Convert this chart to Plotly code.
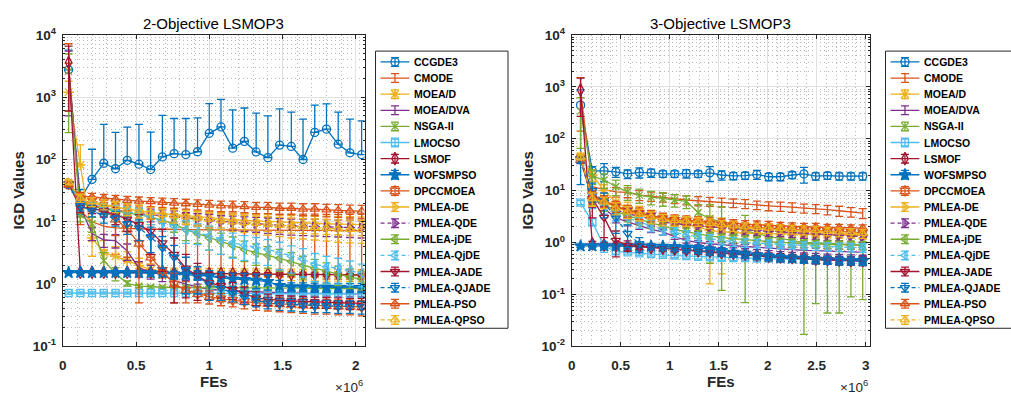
import plotly.graph_objects as go

# ---------------------------------------------------------------- data
ALGORITHMS = ["CCGDE3", "CMODE", "MOEA/D", "MOEA/DVA", "NSGA-II", "LMOCSO", "LSMOF",
              "WOFSMPSO", "DPCCMOEA", "PMLEA-DE", "PMLEA-QDE", "PMLEA-jDE", "PMLEA-QjDE",
              "PMLEA-JADE", "PMLEA-QJADE", "PMLEA-PSO", "PMLEA-QPSO"]

# function evaluations at which IGD was recorded
fes_2obj = [40000, 120000, 200000, 280000, 360000, 440000, 520000, 600000, 680000, 760000,
            840000, 920000, 1000000, 1080000, 1160000, 1240000, 1320000, 1400000, 1480000,
            1560000, 1640000, 1720000, 1800000, 1880000, 1960000, 2040000]
fes_3obj = [90000, 210000, 330000, 450000, 570000, 690000, 810000, 930000, 1050000, 1170000,
            1290000, 1410000, 1530000, 1650000, 1770000, 1890000, 2010000, 2130000, 2250000,
            2370000, 2490000, 2610000, 2730000, 2850000, 2970000]

# ---- 2-objective LSMOP3: mean IGD and standard deviation
igd2_ccgde3 = [2750, 23, 48, 87, 71, 97, 84, 69, 110, 124, 120, 133, 263, 333, 152, 195, 132, 107, 170, 162, 100, 272, 307, 176, 128, 120]
std2_ccgde3 = [2950, 10, 98, 278, 201, 233, 281, 206, 400, 331, 335, 332, 527, 587, 473, 475, 423, 393, 480, 413, 345, 473, 473, 399, 317, 295]
igd2_cmode = [3500, 15, 10, 8.5, 8.0, 7.8, 7.7, 7.6, 7.6, 7.5, 7.5, 7.5, 7.4, 7.4, 7.4, 7.4, 7.3, 7.3, 7.3, 7.3, 7.3, 7.3, 7.2, 7.2, 7.2, 7.2]
std2_cmode = [3700, 6, 5, 5, 5, 5.5, 5.5, 5.5, 6, 6, 6, 6, 6, 6, 6, 6, 6, 6, 6, 6, 6, 6, 6, 6, 6, 6]
igd2_moead = [1200, 82, 5.5, 3.2, 2.8, 2.4, 2.0, 1.7, 1.55, 1.5, 1.5, 1.5, 1.48, 1.48, 1.47, 1.46, 1.45, 1.45, 1.44, 1.44, 1.43, 1.43, 1.42, 1.42, 1.41, 1.4]
std2_moead = [600, 90, 2.7, 1.8, 1.2, 0.9, 0.6, 0.4, 0.3, 0.3, 0.3, 0.3, 0.3, 0.3, 0.3, 0.3, 0.3, 0.3, 0.3, 0.3, 0.3, 0.3, 0.3, 0.3, 0.3, 0.3]
igd2_moeadva = [3000, 17, 6.5, 5.1, 5.0, 3.4, 1.8, 1.6, 1.4, 1.15, 1.0, 0.9, 0.82, 0.8, 0.78, 0.76, 0.75, 0.74, 0.73, 0.72, 0.72, 0.71, 0.71, 0.7, 0.7, 0.7]
std2_moeadva = [2500, 5, 1.5, 1.2, 1.2, 1.0, 0.5, 0.4, 0.3, 0.2, 0.15, 0.1, 0.08, 0.08, 0.07, 0.07, 0.07, 0.07, 0.07, 0.07, 0.07, 0.07, 0.07, 0.07, 0.07, 0.07]
igd2_nsga2 = [2600, 13, 9.3, 2.4, 1.48, 1.03, 0.93, 0.9, 0.89, 0.88, 0.88, 0.87, 0.87, 0.87, 0.87, 0.86, 0.86, 0.86, 0.86, 0.86, 0.86, 0.85, 0.85, 0.85, 0.85, 0.85]
std2_nsga2 = [2330, 3, 2.5, 0.8, 0.35, 0.1, 0.05, 0.04, 0.04, 0.04, 0.04, 0.04, 0.04, 0.04, 0.04, 0.04, 0.04, 0.04, 0.04, 0.04, 0.04, 0.04, 0.04, 0.04, 0.04, 0.04]
igd2_lmocso = [0.72, 0.72, 0.72, 0.72, 0.72, 0.72, 0.72, 0.72, 0.72, 0.72, 0.72, 0.71, 0.71, 0.71, 0.71, 0.71, 0.71, 0.70, 0.70, 0.70, 0.70, 0.70, 0.70, 0.70, 0.70, 0.70]
std2_lmocso = [0.03, 0.03, 0.03, 0.03, 0.03, 0.03, 0.03, 0.03, 0.03, 0.03, 0.03, 0.03, 0.03, 0.03, 0.03, 0.03, 0.03, 0.03, 0.03, 0.03, 0.03, 0.03, 0.03, 0.03, 0.03, 0.03]
igd2_lsmof = [3600, 1.55, 1.55, 1.55, 1.55, 1.55, 1.55, 1.55, 1.55, 1.52, 1.5, 1.5, 1.48, 1.47, 1.46, 1.46, 1.45, 1.45, 1.44, 1.44, 1.43, 1.43, 1.42, 1.42, 1.41, 1.4]
std2_lsmof = [3000, 0.08, 0.08, 0.08, 0.08, 0.08, 0.08, 0.08, 0.08, 0.08, 0.08, 0.08, 0.08, 0.08, 0.08, 0.08, 0.08, 0.08, 0.08, 0.08, 0.08, 0.08, 0.08, 0.08, 0.08, 0.08]
igd2_wofsmpso = [1.53, 1.53, 1.53, 1.53, 1.53, 1.53, 1.53, 1.52, 1.5, 1.45, 1.42, 1.4, 1.35, 1.25, 1.2, 1.18, 1.15, 1.1, 0.95, 0.9, 0.9, 0.89, 0.89, 0.88, 0.88, 0.88]
std2_wofsmpso = [0.05, 0.05, 0.05, 0.05, 0.05, 0.05, 0.05, 0.05, 0.1, 0.15, 0.2, 0.25, 0.3, 0.3, 0.3, 0.3, 0.3, 0.3, 0.2, 0.15, 0.15, 0.15, 0.15, 0.15, 0.15, 0.15]
igd2_dpccmoea = [40, 22, 19, 16, 11, 7.7, 4.5, 2.7, 1.66, 1.0, 0.8, 0.7, 0.63, 0.58, 0.55, 0.52, 0.5, 0.49, 0.48, 0.47, 0.46, 0.45, 0.45, 0.44, 0.44, 0.43]
std2_dpccmoea = [5, 4, 4, 4, 5, 5, 4, 3, 2.2, 0.5, 0.3, 0.2, 0.15, 0.13, 0.12, 0.12, 0.12, 0.12, 0.12, 0.12, 0.12, 0.12, 0.12, 0.12, 0.12, 0.12]
igd2_de = [42, 22, 20, 18.5, 17, 16, 15, 14, 13.5, 13, 12.5, 12, 11.5, 11, 10.8, 10.5, 10.3, 10, 9.8, 9.6, 9.5, 9.4, 9.3, 9.2, 9.1, 9.0]
std2_de = [4, 3.5, 3.5, 3.5, 3.5, 3.5, 3.5, 3, 3, 3, 3, 3, 3, 3, 3, 3, 3, 3, 3, 3, 3, 3, 3, 3, 3, 3]
igd2_qde = [40, 20, 18, 16.5, 15.5, 14.5, 13.5, 13, 12.5, 12, 11.5, 11, 10.5, 10, 9.8, 9.5, 9.3, 9, 8.8, 8.6, 8.5, 8.4, 8.3, 8.2, 8.1, 8.0]
std2_qde = [4, 3, 3, 3, 3, 3, 3, 3, 3, 3, 2.5, 2.5, 2.5, 2.5, 2.5, 2.5, 2.5, 2.5, 2.5, 2.5, 2.5, 2.5, 2.5, 2.5, 2.5, 2.5]
igd2_jde = [40, 20, 18, 16, 15, 14, 13, 12, 10.5, 9.3, 7.5, 6.5, 5.5, 4.8, 4.2, 3.6, 3.2, 2.9, 2.6, 2.3, 2.0, 1.8, 1.6, 1.45, 1.3, 1.2]
std2_jde = [4, 3, 3, 3, 3, 3, 3, 3, 3, 2.5, 2.5, 2, 2, 1.8, 1.5, 1.3, 1.2, 1.1, 1.0, 0.9, 0.8, 0.7, 0.6, 0.5, 0.45, 0.4]
igd2_qjde = [40, 22, 19, 17, 15.5, 14.5, 13.5, 12, 10, 8.5, 7.5, 6.8, 6.0, 5.3, 4.6, 4.2, 3.9, 3.6, 3.2, 2.8, 2.5, 2.1, 1.9, 1.8, 1.65, 1.5]
std2_qjde = [4, 3, 3, 3, 3, 3, 3, 3, 3, 3, 3, 2.5, 2.5, 2.3, 2, 1.8, 1.7, 1.6, 1.5, 1.3, 1.2, 1.0, 0.9, 0.8, 0.7, 0.6]
igd2_jade = [40, 17, 16.6, 14.9, 13, 11, 9, 7, 4.6, 3.0, 1.8, 1.35, 1.05, 0.95, 0.82, 0.7, 0.6, 0.57, 0.55, 0.54, 0.53, 0.52, 0.51, 0.5, 0.49, 0.49]
std2_jade = [4, 3, 3, 3, 4, 4, 4, 4, 3, 2.5, 1.2, 0.8, 0.5, 0.35, 0.25, 0.2, 0.15, 0.12, 0.1, 0.1, 0.1, 0.1, 0.1, 0.1, 0.1, 0.1]
igd2_qjade = [40, 18, 15, 12.5, 11.5, 9.3, 8, 5.7, 3.8, 2.7, 1.7, 1.3, 1.0, 0.85, 0.72, 0.62, 0.55, 0.5, 0.48, 0.47, 0.46, 0.45, 0.45, 0.44, 0.44, 0.43]
std2_qjade = [4, 3, 3, 3, 3, 3, 3, 2.5, 2, 1.5, 1, 0.6, 0.45, 0.3, 0.2, 0.15, 0.12, 0.1, 0.1, 0.1, 0.1, 0.1, 0.1, 0.1, 0.1, 0.1]
igd2_pso = [40, 26, 25, 24, 23, 22, 21.5, 21, 20.5, 20, 19.5, 19, 18.5, 18, 18, 17.5, 17, 17, 16.5, 16.5, 16, 16, 15.5, 15.3, 15, 14.8]
std2_pso = [4, 3.5, 3.5, 3.5, 3.5, 3.5, 3.5, 3.5, 3.5, 3.5, 3.5, 3.5, 3.5, 3.5, 3.5, 3.5, 3.5, 3.5, 3.5, 3.5, 3.5, 3.5, 3.5, 3.5, 3.5, 3.5]
igd2_qpso = [43, 24, 21, 19, 17.5, 16, 15, 14, 13, 12.5, 12, 11.5, 11, 10.5, 10, 9.7, 9.4, 9.1, 8.8, 8.5, 8.3, 8.1, 7.9, 7.7, 7.6, 7.5]
std2_qpso = [4, 3.5, 3.5, 3.5, 3.5, 3.5, 3.5, 3, 3, 3, 3, 3, 3, 3, 3, 3, 3, 3, 3, 3, 3, 3, 3, 3, 3, 3]

# ---- 3-objective LSMOP3: mean IGD and standard deviation
igd3_ccgde3 = [443, 24, 24, 23, 21, 22.5, 22, 21, 21, 21.5, 21, 22, 20, 19.2, 19.5, 20.5, 18.5, 18.5, 20, 21, 19, 19.5, 19, 19, 19]
std3_ccgde3 = [430, 5, 9, 5, 4, 5, 4, 3, 3, 4, 3, 7, 4, 3, 3, 4, 3, 3, 3, 7, 3, 3, 3, 3, 3]
igd3_cmode = [820, 12, 10.5, 9.5, 9.3, 8.2, 7.8, 7.5, 7.0, 6.6, 6.4, 6.2, 6.0, 5.8, 5.6, 5.3, 5.1, 5.0, 4.8, 4.6, 4.5, 4.3, 4.1, 3.9, 3.7]
std3_cmode = [680, 3, 2.5, 2, 2, 1.8, 1.6, 1.5, 1.4, 1.3, 1.3, 1.2, 1.2, 1.1, 1.1, 1.0, 1.0, 1.0, 1.0, 0.9, 0.9, 0.9, 0.9, 0.8, 0.8]
igd3_moead = [45, 20, 10, 6, 4.5, 3.8, 3.2, 2.8, 2.5, 2.2, 2.0, 1.7, 1.6, 1.55, 1.52, 1.5, 1.48, 1.46, 1.45, 1.44, 1.43, 1.42, 1.41, 1.4, 1.4]
std3_moead = [8, 5, 3, 2, 1.5, 1.2, 1.0, 0.8, 0.7, 0.6, 0.6, 1.54, 1.35, 0.4, 0.4, 0.4, 0.4, 0.4, 0.4, 0.4, 0.4, 0.4, 0.4, 0.4, 0.4]
igd3_moeadva = [40, 8, 4.5, 3, 2.5, 2.1, 1.8, 1.6, 1.3, 1.1, 1.0, 0.95, 0.9, 0.87, 0.84, 0.81, 0.78, 0.75, 0.73, 0.71, 0.7, 0.68, 0.67, 0.66, 0.65]
std3_moeadva = [6, 2, 1, 0.6, 0.4, 0.3, 0.25, 0.2, 0.15, 0.12, 0.1, 0.1, 0.1, 0.08, 0.08, 0.08, 0.08, 0.08, 0.08, 0.08, 0.08, 0.08, 0.08, 0.08, 0.08]
igd3_nsga2 = [340, 19, 16, 12, 9.5, 8.2, 7.5, 7.0, 6.6, 6.2, 3.8, 2.9, 2.5, 2.0, 1.7, 1.5, 1.3, 1.2, 1.1, 1.0, 1.0, 0.95, 0.95, 0.9, 0.9]
std3_nsga2 = [275, 6, 5, 4, 3, 2.5, 2.2, 2.0, 1.8, 1.7, 1.6, 2.5, 2.38, 0.5, 1.63, 0.4, 0.3, 0.3, 0.3, 0.983, 0.933, 0.906, 0.906, 0.81, 0.82]
igd3_lmocso = [5.9, 2.5, 0.85, 0.68, 0.65, 0.62, 0.6, 0.58, 0.56, 0.55, 0.53, 0.52, 0.51, 0.5, 0.5, 0.49, 0.49, 0.48, 0.48, 0.48, 0.47, 0.47, 0.47, 0.46, 0.46]
std3_lmocso = [0.5, 0.4, 0.2, 0.08, 0.05, 0.05, 0.05, 0.05, 0.05, 0.05, 0.05, 0.05, 0.05, 0.05, 0.05, 0.05, 0.05, 0.05, 0.05, 0.05, 0.05, 0.05, 0.05, 0.05, 0.05]
igd3_lsmof = [870, 0.95, 0.9, 0.88, 0.85, 0.82, 0.8, 0.78, 0.75, 0.72, 0.7, 0.68, 0.65, 0.62, 0.6, 0.57, 0.55, 0.53, 0.51, 0.5, 0.48, 0.47, 0.46, 0.45, 0.45]
std3_lsmof = [600, 0.1, 0.08, 0.08, 0.08, 0.08, 0.08, 0.08, 0.08, 0.08, 0.08, 0.08, 0.08, 0.08, 0.08, 0.08, 0.08, 0.08, 0.08, 0.08, 0.08, 0.08, 0.08, 0.08, 0.08]
igd3_wofsmpso = [0.86, 0.86, 0.86, 0.86, 0.86, 0.86, 0.85, 0.85, 0.84, 0.82, 0.8, 0.75, 0.7, 0.65, 0.62, 0.58, 0.55, 0.52, 0.5, 0.49, 0.48, 0.47, 0.46, 0.45, 0.45]
std3_wofsmpso = [0.05, 0.05, 0.05, 0.05, 0.05, 0.05, 0.05, 0.05, 0.05, 0.05, 0.05, 0.05, 0.05, 0.05, 0.05, 0.05, 0.05, 0.05, 0.05, 0.05, 0.05, 0.05, 0.05, 0.05, 0.05]
igd3_dpccmoea = [40, 8, 6.5, 5, 4.2, 3.7, 3.3, 2.9, 2.7, 2.6, 2.5, 2.3, 2.2, 2.1, 2.0, 1.95, 1.9, 1.85, 1.8, 1.75, 1.7, 1.65, 1.6, 1.6, 1.55]
std3_dpccmoea = [5, 2, 1.5, 1.2, 1.0, 0.9, 0.8, 0.7, 0.6, 0.55, 0.5, 0.5, 0.45, 0.45, 0.4, 0.4, 0.4, 0.35, 0.35, 0.35, 0.35, 0.3, 0.3, 0.3, 0.3]
igd3_de = [42, 7, 6, 4.8, 4.0, 3.6, 3.2, 2.8, 2.6, 2.5, 2.4, 2.2, 2.1, 2.0, 1.9, 1.85, 1.8, 1.75, 1.7, 1.65, 1.6, 1.55, 1.5, 1.5, 1.45]
std3_de = [5, 2, 1.5, 1.2, 1.0, 0.9, 0.8, 0.7, 0.6, 0.55, 0.5, 0.5, 0.45, 0.45, 0.4, 0.4, 0.4, 0.35, 0.35, 0.35, 0.35, 0.3, 0.3, 0.3, 0.3]
igd3_qde = [40, 6.5, 5.5, 4.3, 3.6, 3.2, 2.9, 2.5, 2.3, 2.2, 2.1, 2.0, 1.9, 1.8, 1.75, 1.7, 1.65, 1.6, 1.55, 1.5, 1.45, 1.4, 1.38, 1.35, 1.3]
std3_qde = [5, 1.8, 1.4, 1.1, 0.9, 0.8, 0.7, 0.6, 0.55, 0.5, 0.45, 0.45, 0.4, 0.4, 0.35, 0.35, 0.35, 0.3, 0.3, 0.3, 0.3, 0.3, 0.3, 0.3, 0.3]
igd3_jde = [40, 7, 5.5, 4, 3.3, 2.8, 2.4, 2.1, 1.8, 1.6, 1.45, 1.35, 1.25, 1.2, 1.15, 1.1, 1.05, 1.0, 1.0, 0.95, 0.95, 0.92, 0.9, 0.9, 0.88]
std3_jde = [5, 2, 1.5, 1.0, 0.8, 0.6, 0.5, 0.4, 0.35, 0.3, 0.25, 0.2, 0.2, 0.2, 0.18, 0.18, 0.15, 0.15, 0.15, 0.15, 0.15, 0.15, 0.15, 0.15, 0.15]
igd3_qjde = [38, 6.5, 5.0, 3.6, 3.0, 2.5, 2.1, 1.8, 1.6, 1.4, 1.3, 1.2, 1.1, 1.05, 1.0, 0.97, 0.95, 0.92, 0.9, 0.88, 0.86, 0.84, 0.82, 0.81, 0.8]
std3_qjde = [5, 2, 1.5, 1.0, 0.8, 0.6, 0.5, 0.4, 0.35, 0.3, 0.25, 0.22, 0.2, 0.2, 0.18, 0.18, 0.16, 0.16, 0.15, 0.15, 0.15, 0.15, 0.15, 0.15, 0.15]
igd3_jade = [40, 7, 3.05, 1.1, 0.88, 0.85, 0.82, 0.78, 0.75, 0.72, 0.68, 0.65, 0.62, 0.6, 0.57, 0.55, 0.53, 0.51, 0.5, 0.48, 0.47, 0.46, 0.45, 0.45, 0.44]
std3_jade = [6, 4, 1.8, 0.57, 0.2, 0.1, 0.08, 0.08, 0.08, 0.08, 0.08, 0.08, 0.08, 0.08, 0.08, 0.08, 0.08, 0.08, 0.08, 0.08, 0.08, 0.08, 0.08, 0.08, 0.08]
igd3_qjade = [40, 10, 6, 3.0, 1.5, 0.95, 0.85, 0.8, 0.77, 0.74, 0.7, 0.66, 0.63, 0.6, 0.57, 0.55, 0.53, 0.51, 0.5, 0.48, 0.47, 0.46, 0.45, 0.45, 0.44]
std3_qjade = [6, 4, 3, 1.5, 0.7, 0.3, 0.1, 0.08, 0.08, 0.08, 0.08, 0.08, 0.08, 0.08, 0.08, 0.08, 0.08, 0.08, 0.08, 0.08, 0.08, 0.08, 0.08, 0.08, 0.08]
igd3_pso = [43, 7.5, 6.2, 5.0, 4.1, 3.7, 3.3, 3.0, 2.8, 2.7, 2.65, 2.5, 2.4, 2.3, 2.25, 2.2, 2.15, 2.1, 2.05, 2.0, 2.0, 1.95, 1.95, 1.9, 1.9]
std3_pso = [5, 2, 1.5, 1.2, 1.0, 0.9, 0.8, 0.7, 0.6, 0.55, 0.5, 0.5, 0.45, 0.45, 0.4, 0.4, 0.4, 0.35, 0.35, 0.35, 0.35, 0.3, 0.3, 0.3, 0.3]
igd3_qpso = [44, 7.0, 6.0, 4.6, 3.9, 3.5, 3.1, 2.8, 2.65, 2.6, 2.55, 2.35, 2.2, 2.1, 2.0, 1.95, 1.9, 1.85, 1.8, 1.75, 1.7, 1.65, 1.6, 1.55, 1.5]
std3_qpso = [5, 2, 1.5, 1.2, 1.0, 0.9, 0.8, 0.7, 0.6, 0.55, 0.5, 0.5, 0.45, 0.45, 0.4, 0.4, 0.4, 0.35, 0.35, 0.35, 0.35, 0.3, 0.3, 0.3, 0.3]

results_2obj = [
    (igd2_ccgde3, std2_ccgde3), (igd2_cmode, std2_cmode), (igd2_moead, std2_moead),
    (igd2_moeadva, std2_moeadva), (igd2_nsga2, std2_nsga2), (igd2_lmocso, std2_lmocso),
    (igd2_lsmof, std2_lsmof), (igd2_wofsmpso, std2_wofsmpso), (igd2_dpccmoea, std2_dpccmoea),
    (igd2_de, std2_de), (igd2_qde, std2_qde), (igd2_jde, std2_jde), (igd2_qjde, std2_qjde),
    (igd2_jade, std2_jade), (igd2_qjade, std2_qjade), (igd2_pso, std2_pso), (igd2_qpso, std2_qpso),
]
results_3obj = [
    (igd3_ccgde3, std3_ccgde3), (igd3_cmode, std3_cmode), (igd3_moead, std3_moead),
    (igd3_moeadva, std3_moeadva), (igd3_nsga2, std3_nsga2), (igd3_lmocso, std3_lmocso),
    (igd3_lsmof, std3_lsmof), (igd3_wofsmpso, std3_wofsmpso), (igd3_dpccmoea, std3_dpccmoea),
    (igd3_de, std3_de), (igd3_qde, std3_qde), (igd3_jde, std3_jde), (igd3_qjde, std3_qjde),
    (igd3_jade, std3_jade), (igd3_qjade, std3_qjade), (igd3_pso, std3_pso), (igd3_qpso, std3_qpso),
]

# ---------------------------------------------------------------- styles
W, H = 1011, 407
BLUE, ORANGE, YELLOW, PURPLE = "#0072BD", "#D95319", "#EDB120", "#7E2F8E"
GREEN, CYAN, RED = "#77AC30", "#4DBEEE", "#A2142F"
AXC = "#262626"
FONT = "Liberation Sans, Arial, sans-serif"

STYLE = {
    "CCGDE3":      (BLUE,   "circle-open",         "solid", 8),
    "CMODE":       (ORANGE, None,                  "solid", 0),
    "MOEA/D":      (YELLOW, "asterisk-open",       "solid", 9),
    "MOEA/DVA":    (PURPLE, None,                  "solid", 0),
    "NSGA-II":     (GREEN,  "x-thin-open",         "solid", 7),
    "LMOCSO":      (CYAN,   "square-open",         "solid", 7),
    "LSMOF":       (RED,    "diamond-tall-open",   "solid", 9),
    "WOFSMPSO":    (BLUE,   "star",                "solid", 9),
    "DPCCMOEA":    (ORANGE, "hexagram-open",       "solid", 8),
    "PMLEA-DE":    (YELLOW, "triangle-right-open", "solid", 8),
    "PMLEA-QDE":   (PURPLE, "triangle-right-open", "4px,3px", 8),
    "PMLEA-jDE":   (GREEN,  "triangle-left-open",  "solid", 8),
    "PMLEA-QjDE":  (CYAN,   "triangle-left-open",  "4px,3px", 8),
    "PMLEA-JADE":  (RED,    "triangle-down-open",  "solid", 8),
    "PMLEA-QJADE": (BLUE,   "triangle-down-open",  "4px,3px", 8),
    "PMLEA-PSO":   (ORANGE, "triangle-up-open",    "solid", 8),
    "PMLEA-QPSO":  (YELLOW, "triangle-up-open",    "4px,3px", 8),
}
LW = 1.3


def px_x(p):
    return p / W


def px_y(p):
    return 1 - p / H


fig = go.Figure()


def add_panel(fes, results, xa, ya):
    for name, (mean, std) in zip(ALGORITHMS, results):
        color, symbol, dash, size = STYLE[name]
        # on a log axis a lower bound <= 0 cannot be drawn
        minus = [s if s < m else 0.0 for m, s in zip(mean, std)]
        fig.add_trace(go.Scatter(
            x=fes, y=mean, xaxis=xa, yaxis=ya, name=name, showlegend=False,
            mode="lines+markers" if symbol else "lines",
            line=dict(color=color, width=LW, dash=dash),
            marker=dict(symbol=symbol or "circle", size=size, color=color,
                        line=dict(color=color, width=LW)),
            error_y=dict(type="data", symmetric=False, array=std, arrayminus=minus,
                         color=color, thickness=LW, width=4),
        ))


add_panel(fes_2obj, results_2obj, "x", "y")
add_panel(fes_3obj, results_3obj, "x2", "y2")


# legend drawn as glyph rows on its own hidden axes
def add_legend(xa, ya, x0px, x1px):
    for k, name in enumerate(ALGORITHMS):
        color, symbol, dash, size = STYLE[name]
        fig.add_trace(go.Scatter(
            x=[0.038, 0.256], y=[k, k], xaxis=xa, yaxis=ya, mode="lines",
            line=dict(color=color, width=LW, dash=dash), showlegend=False, hoverinfo="skip"))
        fig.add_trace(go.Scatter(
            x=[0.147], y=[k], xaxis=xa, yaxis=ya, mode="markers", showlegend=False,
            hoverinfo="skip",
            marker=dict(symbol=symbol or "circle", size=size if symbol else 1,
                        opacity=1 if symbol else 0, color=color,
                        line=dict(color=color, width=LW)),
            error_y=dict(type="data", array=[0.27], color=color, thickness=LW, width=4)))
        fig.add_annotation(x=0.278, y=k, xref=xa, yref=ya, text=name, showarrow=False,
                           xanchor="left", yanchor="middle",
                           font=dict(family=FONT, size=10.5, color="#000000", weight="bold"))
    fig.add_shape(type="rect", xref="paper", yref="paper", layer="below",
                  x0=px_x(x0px), x1=px_x(x1px), y0=px_y(333), y1=px_y(43),
                  line=dict(color=AXC, width=1), fillcolor="white")


add_legend("x3", "y3", 373, 506)
add_legend("x4", "y4", 885, 1018)

# ---------------------------------------------------------------- axes


def sup(e):
    return "10<sup>%d</sup>" % e


tickfont = dict(family=FONT, size=13.5, color=AXC, weight="bold")
MAJOR_GRID = "#e0e0e0"
MINOR_GRID = "#b8b8b8"
MINOR_DASH = "1px,3px"


def xaxis_cfg(domain, xmax, ticks):
    return dict(
        domain=domain, range=[0, xmax], anchor=None,
        tickvals=[t * 1e6 for t in ticks], ticktext=[("%g" % t) for t in ticks],
        showline=True, linecolor=AXC, linewidth=1, mirror="ticks",
        ticks="inside", ticklen=4, tickcolor=AXC, tickfont=tickfont,
        showgrid=True, gridcolor=MAJOR_GRID, gridwidth=1, zeroline=False,
        ticklabelstandoff=6,
        minor=dict(tickvals=[i * 1e5 for i in range(0, int(xmax / 1e5) + 1)],
                   showgrid=True, gridcolor=MINOR_GRID, griddash=MINOR_DASH, gridwidth=1,
                   ticks=""),
    )


def yaxis_cfg(domain, lo, hi):
    minors = [m * 10 ** e for e in range(lo, hi) for m in range(2, 10)]
    return dict(
        domain=domain, type="log", range=[lo, hi],
        tickvals=[10 ** e for e in range(lo, hi + 1)],
        ticktext=[sup(e) for e in range(lo, hi + 1)],
        showline=True, linecolor=AXC, linewidth=1, mirror="ticks",
        ticks="inside", ticklen=4, tickcolor=AXC, tickfont=tickfont,
        showgrid=True, gridcolor=MAJOR_GRID, gridwidth=1, zeroline=False,
        ticklabelstandoff=3,
        minor=dict(tickvals=minors, showgrid=True, gridcolor=MINOR_GRID, griddash=MINOR_DASH,
                   gridwidth=1, ticks="inside", ticklen=2, tickcolor=AXC),
    )


ydom = [px_y(352), px_y(26)]
xa1 = xaxis_cfg([px_x(59), px_x(362)], 2.06e6, [0, 0.5, 1, 1.5, 2])
xa1["anchor"] = "y"
xa2 = xaxis_cfg([px_x(570), px_x(869)], 3.04e6, [0, 0.5, 1, 1.5, 2, 2.5, 3])
xa2["anchor"] = "y2"
ya1 = yaxis_cfg(ydom, -1, 4)
ya1["anchor"] = "x"
ya2 = yaxis_cfg(ydom, -2, 4)
ya2["anchor"] = "x2"

legend_y = dict(domain=[px_y(333), px_y(43)], range=[16.52, -0.67], visible=False,
                fixedrange=True)
fig.update_layout(
    width=W, height=H, margin=dict(l=0, r=0, t=0, b=0),
    paper_bgcolor="white", plot_bgcolor="white", showlegend=False,
    font=dict(family=FONT, color=AXC),
    xaxis=xa1, yaxis=ya1, xaxis2=xa2, yaxis2=ya2,
    xaxis3=dict(domain=[px_x(373), px_x(506)], range=[0, 1], visible=False,
                anchor="y3", fixedrange=True),
    yaxis3=dict(legend_y, anchor="x3"),
    xaxis4=dict(domain=[px_x(885), 1.0], range=[0, 126 / 133], visible=False,
                anchor="y4", fixedrange=True),
    yaxis4=dict(legend_y, anchor="x4"),
)

# titles and axis labels
for cx, title in [(210.5, "2-Objective LSMOP3"), (719.5, "3-Objective LSMOP3")]:
    fig.add_annotation(x=px_x(cx), y=px_y(14), xref="paper", yref="paper", text=title,
                       showarrow=False, xanchor="center", yanchor="middle",
                       font=dict(family=FONT, size=15, color="#000000"))
    fig.add_annotation(x=px_x(cx), y=px_y(389), xref="paper", yref="paper", text="FEs",
                       showarrow=False, xanchor="center", yanchor="middle",
                       font=dict(family=FONT, size=15, color=AXC, weight="bold"))
for lx in (15, 526):
    fig.add_annotation(x=px_x(lx), y=px_y(189), xref="paper", yref="paper",
                       text="IGD Values", textangle=-90, showarrow=False,
                       xanchor="center", yanchor="middle",
                       font=dict(family=FONT, size=15, color=AXC, weight="bold"))
for rx in (362, 869):
    fig.add_annotation(x=px_x(rx), y=px_y(393), xref="paper", yref="paper",
                       text="\u00d710<sup>6</sup>", showarrow=False,
                       xanchor="right", yanchor="middle",
                       font=dict(family=FONT, size=13.5, color=AXC))

fig.write_html("out.html")
